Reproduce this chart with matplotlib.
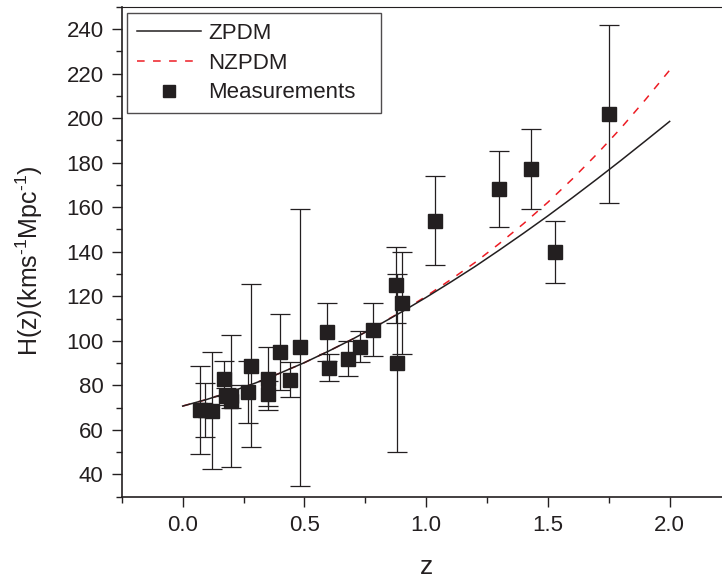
"""H(z) measurements vs ZPDM / NZPDM model curves."""

import matplotlib

matplotlib.use("Agg")

import matplotlib.pyplot as plt
from matplotlib.ticker import MultipleLocator

plt.rcParams["font.family"] = ["Liberation Sans", "DejaVu Sans"]
plt.rcParams["mathtext.fontset"] = "custom"
plt.rcParams["mathtext.rm"] = "Liberation Sans"
plt.rcParams["mathtext.it"] = "Liberation Sans"

# --- Observational H(z) data ---
z_obs = [0.07, 0.09, 0.12, 0.17, 0.179, 0.199, 0.2, 0.27, 0.28, 0.35, 0.352,
         0.4, 0.44, 0.48, 0.593, 0.6, 0.68, 0.73, 0.781, 0.875, 0.88, 0.9,
         1.037, 1.3, 1.43, 1.53, 1.75]
h_obs = [69.0, 69.0, 68.6, 83.0, 75.0, 75.0, 72.9, 77.0, 88.8, 76.3, 83.0,
         95.0, 82.6, 97.0, 104.0, 87.9, 92.0, 97.3, 105.0, 125.0, 90.0, 117.0,
         154.0, 168.0, 177.0, 140.0, 202.0]
h_err = [19.6, 12.0, 26.2, 8.0, 4.0, 5.0, 29.6, 14.0, 36.6, 5.6, 14.0,
         17.0, 7.8, 62.0, 13.0, 6.1, 8.0, 7.0, 12.0, 17.0, 40.0, 23.0,
         20.0, 17.0, 18.0, 14.0, 40.0]

# --- Model curves ---
z_model = [0.0, 0.1, 0.2, 0.3, 0.4, 0.5, 0.6, 0.7, 0.8, 0.9, 1.0,
           1.1, 1.2, 1.3, 1.4, 1.5, 1.6, 1.7, 1.8, 1.9, 2.0]
h_zpdm = [70.7, 73.7, 77.2, 81.1, 85.5, 90.2, 95.4, 100.9, 106.8, 113.0, 119.5,
          126.3, 133.3, 140.7, 148.3, 156.1, 164.2, 172.5, 181.0, 189.7, 198.5]
h_nzpdm = [70.7, 73.7, 77.2, 81.1, 85.5, 90.2, 95.4, 100.9, 106.9, 113.2, 120.0,
           127.4, 135.1, 143.6, 152.6, 162.2, 172.6, 183.7, 195.5, 208.2, 221.5]

DARK = "#231f20"
RED = "#ed1c24"

fig = plt.figure(figsize=(7.22, 5.83), dpi=100)
# the right edge of the frame lies just outside the picture
ax = fig.add_axes([0.1687, 0.148, 0.8431, 0.8405])

ax.plot(z_model, h_zpdm, color=DARK, lw=1.1, label="ZPDM", zorder=3)
ax.plot(z_model, h_nzpdm, color=RED, lw=1.1, ls=(0, (5, 5.5)),
        label="NZPDM", zorder=2)
ax.errorbar(z_obs, h_obs, yerr=h_err, fmt="none", ecolor=DARK,
            elinewidth=0.9, capsize=7, capthick=0.9, zorder=4)
ax.plot(z_obs, h_obs, ls="none", marker="s", ms=9.5, color=DARK,
        label="Measurements", zorder=5)

ax.set_xlim(-0.25, 2.25)
ax.set_ylim(30, 250)
ax.xaxis.set_major_locator(MultipleLocator(0.5))
ax.xaxis.set_minor_locator(MultipleLocator(0.25))
ax.yaxis.set_major_locator(MultipleLocator(20))
ax.yaxis.set_minor_locator(MultipleLocator(10))
ax.xaxis.set_major_formatter(plt.FuncFormatter(lambda v, p: f"{v:.1f}"))

ax.tick_params(which="major", direction="out", length=7, width=1.0,
               labelsize=16, pad=6, colors=DARK)
ax.tick_params(which="minor", direction="out", length=4.5, width=1.0,
               colors=DARK)
ax.tick_params(top=False, right=False, which="both")
for side in ["left", "bottom"]:
    ax.spines[side].set_linewidth(1.2)
    ax.spines[side].set_color(DARK)
ax.spines["top"].set_linewidth(0.8)
ax.spines["top"].set_color(DARK)
ax.spines["right"].set_visible(False)

ax.set_xlabel("z", fontsize=19, labelpad=14, color=DARK)
ax.set_ylabel(r"H(z)(kms$^{\text{-1}}$Mpc$^{\text{-1}}$)", fontsize=18,
              color=DARK)
ax.yaxis.set_label_coords(-0.126, 0.481)

leg = ax.legend(loc="upper left", bbox_to_anchor=(0.008, 0.5, 0.417, 0.4878),
                mode="expand", borderaxespad=0, fontsize=16, frameon=True,
                fancybox=False, handlelength=2.9, handletextpad=0.31,
                labelspacing=0.4, borderpad=0.45, numpoints=1,
                markerscale=0.85)
leg.get_frame().set_edgecolor(DARK)
leg.get_frame().set_linewidth(1.0)
for t in leg.get_texts():
    t.set_color(DARK)

fig.savefig("out.png", dpi=100)
